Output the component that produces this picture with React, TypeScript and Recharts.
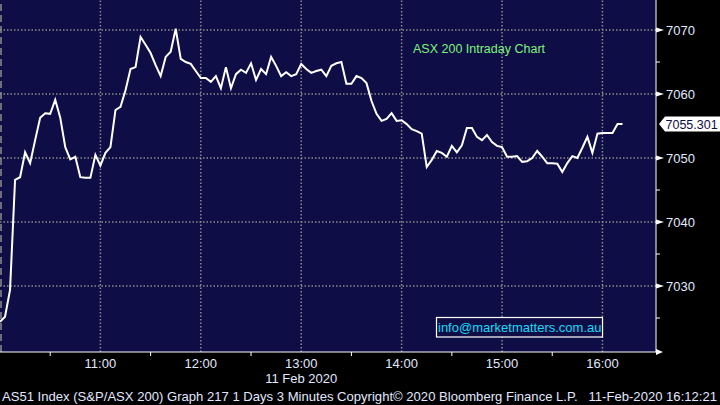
import { LineChart, Line, XAxis, YAxis, CartesianGrid, ReferenceLine } from 'recharts';

// ASX 200 (AS51) 3-minute closes, 10:00 -> 16:12
const prices = [
  7024.4, 7025.2, 7029.4, 7046.6, 7047.0, 7050.9, 7049.2, 7052.8, 7056.3, 7057.0,
  7056.9, 7059.1, 7056.3, 7051.7, 7049.8, 7050.2, 7047.0, 7046.9, 7046.9, 7050.5,
  7048.8, 7050.8, 7051.7, 7057.5, 7058.0, 7060.6, 7063.9, 7064.2, 7068.9, 7067.7,
  7066.4, 7064.5, 7062.8, 7065.8, 7066.6, 7070.2, 7065.5, 7065.0, 7064.7, 7063.6,
  7062.5, 7062.5, 7061.9, 7062.8, 7060.9, 7064.2, 7060.9, 7063.1, 7063.8, 7063.3,
  7064.8, 7062.2, 7063.9, 7063.1, 7065.8, 7064.4, 7062.8, 7063.4, 7062.8, 7063.1,
  7064.7, 7063.9, 7063.3, 7063.6, 7063.8, 7062.8, 7064.4, 7064.8, 7065.0, 7061.6,
  7061.6, 7062.8, 7062.5, 7061.7, 7058.9, 7056.9, 7055.8, 7056.1, 7057.0, 7055.8,
  7055.9, 7055.3, 7054.5, 7054.2, 7053.8, 7048.6, 7049.7, 7051.1, 7050.8, 7050.2,
  7051.9, 7050.9, 7052.0, 7054.7, 7054.7, 7053.3, 7052.8, 7053.6, 7052.5, 7051.9,
  7051.7, 7050.2, 7050.2, 7050.3, 7049.4, 7049.5, 7050.0, 7051.1, 7050.2, 7049.2,
  7049.2, 7049.1, 7047.8, 7049.2, 7050.3, 7050.0, 7051.6, 7053.3, 7050.8, 7053.8,
  7053.9, 7053.9, 7053.9, 7055.3, 7055.301,
];

// minutes after 10:00
const hourTicks = [60, 120, 180, 240, 300, 360];
const hourLabels = ['11:00', '12:00', '13:00', '14:00', '15:00', '16:00'];
const halfHourTicks = [30, 90, 150, 210, 270, 330];
const axisEnd = 392;
const dateLabel = '11 Feb 2020';

const priceTicks = [7030, 7040, 7050, 7060, 7070];
const minorPriceTicks = [7025, 7035, 7045, 7065];
const lastPrice = 7055.301;

const title = 'ASX 200 Intraday Chart';
const email = 'info@marketmatters.com.au';
const footer =
  'AS51 Index (S&P/ASX 200) Graph 217 1 Days 3 Minutes Copyright\u00a9 2020 Bloomberg Finance L.P.   11-Feb-2020 16:12:21';

const data = prices.map((price, i) => ({ minute: i * 3, price }));

const NAVY = '#0f0d46';
const LABEL = '#e2e8ff';
const GRID = '#8c8c8c';
const FONT = '"Liberation Sans", Arial, sans-serif';

function TimeTick(props: any) {
  const { x, y, payload } = props;
  if (payload.value === axisEnd) {
    return <polygon points={`${x},${y - 3} ${x + 7},${y} ${x},${y + 3}`} fill="#fff" />;
  }
  const idx = hourTicks.indexOf(payload.value);
  if (idx < 0) {
    return <line x1={x} x2={x} y1={y} y2={y + 4} stroke="#fff" strokeWidth={1} />;
  }
  return (
    <g>
      <text x={x} y={y + 16} textAnchor="middle" fill={LABEL} fontSize={13} fontFamily={FONT}>
        {hourLabels[idx]}
      </text>
      {payload.value === 180 && (
        <text x={x} y={y + 31} textAnchor="middle" fill={LABEL} fontSize={13} fontFamily={FONT}>
          {dateLabel}
        </text>
      )}
    </g>
  );
}

function PriceTick(props: any) {
  const { x, y, payload } = props;
  const v = payload.value;
  if (v === lastPrice) {
    return (
      <g>
        <polygon
          points={`${x + 3},${y} ${x + 9},${y - 7.5} ${x + 64},${y - 7.5} ${x + 64},${y + 7.5} ${x + 9},${y + 7.5}`}
          fill="#ffffff"
        />
        <text x={x + 9.5} y={y + 4.5} fill={NAVY} fontSize={12.5} fontFamily={FONT}>
          {v.toFixed(3)}
        </text>
      </g>
    );
  }
  if (minorPriceTicks.includes(v)) {
    return <line x1={x} x2={x + 4} y1={y} y2={y} stroke="#fff" strokeWidth={1} />;
  }
  return (
    <g>
      <polygon points={`${x},${y - 2.5} ${x + 8},${y} ${x},${y + 2.5}`} fill="#fff" />
      <text x={x + 10} y={y + 5} fill={LABEL} fontSize={13} fontFamily={FONT}>
        {v}
      </text>
    </g>
  );
}

export default function App() {
  return (
    <div style={{ position: 'absolute', left: 0, top: 0, width: 720, height: 405, background: '#000' }}>
      <LineChart
        width={720}
        height={405}
        data={data}
        margin={{ top: 0, right: 0, left: 0, bottom: 0 }}
      >
        <CartesianGrid fill={NAVY} fillOpacity={1} horizontal={false} vertical={false} />
        <XAxis
          dataKey="minute"
          type="number"
          domain={[0, axisEnd]}
          allowDataOverflow
          ticks={[...halfHourTicks, ...hourTicks, axisEnd]}
          tick={<TimeTick />}
          tickLine={false}
          tickSize={0}
          tickMargin={0}
          axisLine={{ stroke: '#fff', strokeWidth: 1 }}
          height={53}
          interval={0}
        />
        <YAxis
          orientation="right"
          type="number"
          domain={[7019.69, 7074.69]}
          allowDataOverflow
          ticks={[...minorPriceTicks, ...priceTicks, lastPrice]}
          tick={<PriceTick />}
          tickLine={false}
          tickSize={0}
          tickMargin={0}
          axisLine={{ stroke: '#fff', strokeWidth: 1 }}
          width={64}
          interval={0}
        />
        {hourTicks.map((t) => (
          <ReferenceLine
            key={`v${t}`}
            x={t}
            stroke={GRID}
            strokeOpacity={1}
            strokeWidth={1.5}
            strokeDasharray="1.5 2"
            ifOverflow="visible"
          />
        ))}
        {priceTicks.map((p) => (
          <ReferenceLine
            key={`h${p}`}
            y={p}
            stroke={GRID}
            strokeOpacity={1}
            strokeWidth={1.5}
            strokeDasharray="1.5 2"
            ifOverflow="visible"
          />
        ))}
        <ReferenceLine x={0.6} stroke={GRID} strokeWidth={1.5} strokeDasharray="7 4" ifOverflow="visible" />
        <Line
          type="linear"
          dataKey="price"
          stroke="#ffffff"
          strokeWidth={2}
          dot={false}
          activeDot={false}
          isAnimationActive={false}
        />
      </LineChart>
      <svg
        width={720}
        height={405}
        style={{ position: 'absolute', left: 0, top: 0, pointerEvents: 'none' }}
      >
        <text x={413} y={53} fill="#7cf27c" fontSize={12.5} fontFamily={FONT}>
          {title}
        </text>
        <rect x={436.5} y={317.5} width={166} height={19.5} fill={NAVY} stroke="#fff" strokeWidth={1.2} />
        <text x={438} y={332} fill="#13dcf5" fontSize={13} fontFamily={FONT}>
          {email}
        </text>
        <text
          x={2}
          y={401}
          fill={LABEL}
          fontSize={13}
          fontFamily={FONT}
          textLength={715}
          lengthAdjust="spacingAndGlyphs"
          style={{ whiteSpace: 'pre' }}
        >
          {footer}
        </text>
      </svg>
    </div>
  );
}
